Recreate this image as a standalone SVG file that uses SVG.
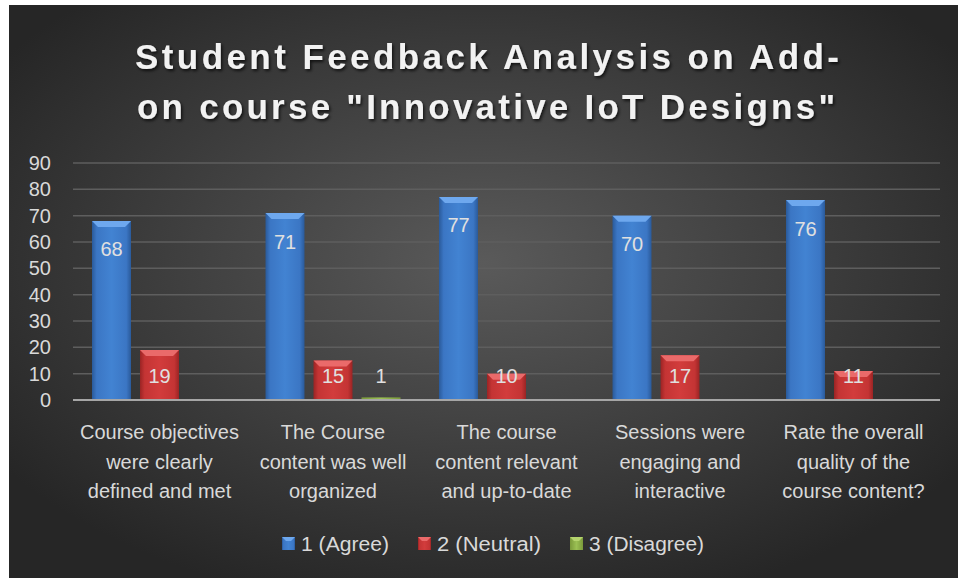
<svg xmlns="http://www.w3.org/2000/svg" width="958" height="578" viewBox="0 0 958 578">
<defs>
<radialGradient id="bg" cx="50%" cy="45%" r="62%">
<stop offset="0" stop-color="#5a5a5a"/>
<stop offset="1" stop-color="#262626"/>
</radialGradient>
<linearGradient id="gb" x1="0" y1="0" x2="1" y2="0">
<stop offset="0" stop-color="#2a5a9a"/>
<stop offset="0.12" stop-color="#3b76c4"/>
<stop offset="0.5" stop-color="#4283d2"/>
<stop offset="0.88" stop-color="#3b76c4"/>
<stop offset="1" stop-color="#2a5a9a"/>
</linearGradient>
<linearGradient id="gr" x1="0" y1="0" x2="1" y2="0">
<stop offset="0" stop-color="#9a2424"/>
<stop offset="0.12" stop-color="#c43434"/>
<stop offset="0.5" stop-color="#d23c3c"/>
<stop offset="0.88" stop-color="#c43434"/>
<stop offset="1" stop-color="#9a2424"/>
</linearGradient>
<linearGradient id="gg" x1="0" y1="0" x2="1" y2="0">
<stop offset="0" stop-color="#7a9a3a"/>
<stop offset="0.5" stop-color="#9bc054"/>
<stop offset="1" stop-color="#7a9a3a"/>
</linearGradient>
<filter id="sh" x="-5%" y="-20%" width="110%" height="140%">
<feDropShadow dx="1.5" dy="2" stdDeviation="1.5" flood-color="#000" flood-opacity="0.7"/>
</filter>
</defs>
<style>
.t{font-family:"Liberation Sans",Arial,sans-serif;font-weight:bold;font-size:35px;fill:#f2f2f2;text-anchor:middle}
.ax{font-family:"Liberation Sans",Arial,sans-serif;font-size:20px;fill:#d9d9d9;text-anchor:end}
.cat{font-family:"Liberation Sans",Arial,sans-serif;font-size:20px;fill:#d9d9d9;text-anchor:middle}
.val{font-family:"Liberation Sans",Arial,sans-serif;font-size:20px;fill:#e0e0e0;text-anchor:middle}
.lg{font-family:"Liberation Sans",Arial,sans-serif;font-size:20px;fill:#d9d9d9}
.grid{stroke:#5e5e5e;stroke-width:1.5}
.bb{fill:url(#gb)}
.br{fill:url(#gr)}
.bg{fill:url(#gg)}
.capb{fill:#6ea8ee}
.capr{fill:#ea6a6a}
</style>
<rect x="0" y="0" width="958" height="578" fill="#ffffff"/>
<rect x="9" y="5" width="949" height="573" fill="url(#bg)"/>
<g id="title" filter="url(#sh)">
<text class="t" x="487" y="69" textLength="704" lengthAdjust="spacing">Student Feedback Analysis on Add-</text>
<text class="t" x="486" y="119" textLength="698" lengthAdjust="spacing">on course "Innovative IoT Designs"</text>
</g>
<g id="gridlines">
<line class="grid" x1="73" y1="163" x2="940" y2="163"/>
<line class="grid" x1="73" y1="189.3" x2="940" y2="189.3"/>
<line class="grid" x1="73" y1="215.7" x2="940" y2="215.7"/>
<line class="grid" x1="73" y1="242" x2="940" y2="242"/>
<line class="grid" x1="73" y1="268.3" x2="940" y2="268.3"/>
<line class="grid" x1="73" y1="294.7" x2="940" y2="294.7"/>
<line class="grid" x1="73" y1="321" x2="940" y2="321"/>
<line class="grid" x1="73" y1="347.3" x2="940" y2="347.3"/>
<line class="grid" x1="73" y1="373.7" x2="940" y2="373.7"/>
</g>
<g id="yaxis">
<text class="ax" x="51" y="170">90</text>
<text class="ax" x="51" y="196">80</text>
<text class="ax" x="51" y="223">70</text>
<text class="ax" x="51" y="249">60</text>
<text class="ax" x="51" y="275">50</text>
<text class="ax" x="51" y="302">40</text>
<text class="ax" x="51" y="328">30</text>
<text class="ax" x="51" y="354">20</text>
<text class="ax" x="51" y="381">10</text>
<text class="ax" x="51" y="407">0</text>
</g>
<g id="bars">
<g id="c1">
<rect class="bb" x="92" y="221" width="39" height="179"/><polygon class="capb" points="92,221 131,221 125,227 98,227"/>
<text class="val" x="111.5" y="256">68</text>
<rect class="br" x="140" y="350" width="39" height="50"/><polygon class="capr" points="140,350 179,350 173,356 146,356"/>
<text class="val" x="159.5" y="382.5">19</text>
</g>
<g id="c2">
<rect class="bb" x="265.5" y="213" width="39" height="187"/><polygon class="capb" points="265.5,213 304.5,213 298.5,219 271.5,219"/>
<text class="val" x="285" y="249">71</text>
<rect class="br" x="313.5" y="360.5" width="39" height="39.5"/><polygon class="capr" points="313.5,360.5 352.5,360.5 346.5,366.5 319.5,366.5"/>
<text class="val" x="333" y="383">15</text>
<rect class="bg" x="361.5" y="397.4" width="39" height="2.6"/>
<text class="val" x="381" y="383">1</text>
</g>
<g id="c3">
<rect class="bb" x="439" y="197" width="39" height="203"/><polygon class="capb" points="439,197 478,197 472,203 445,203"/>
<text class="val" x="458.5" y="232">77</text>
<rect class="br" x="487" y="373.7" width="39" height="26.3"/><polygon class="capr" points="487,373.7 526,373.7 520,379.7 493,379.7"/>
<text class="val" x="506.5" y="382.5">10</text>
</g>
<g id="c4">
<rect class="bb" x="612.5" y="215.7" width="39" height="184.3"/><polygon class="capb" points="612.5,215.7 651.5,215.7 645.5,221.7 618.5,221.7"/>
<text class="val" x="632" y="250.5">70</text>
<rect class="br" x="660.5" y="355.2" width="39" height="44.8"/><polygon class="capr" points="660.5,355.2 699.5,355.2 693.5,361.2 666.5,361.2"/>
<text class="val" x="680" y="382.5">17</text>
</g>
<g id="c5">
<rect class="bb" x="786" y="200" width="39" height="200"/><polygon class="capb" points="786,200 825,200 819,206 792,206"/>
<text class="val" x="805.5" y="235.5">76</text>
<rect class="br" x="834" y="371" width="39" height="29"/><polygon class="capr" points="834,371 873,371 867,377 840,377"/>
<text class="val" x="853.5" y="382.5">11</text>
</g>
</g>
<line id="xaxis" x1="73" y1="400" x2="940" y2="400" stroke="#a6a6a6" stroke-width="2"/>
<g id="categories">
<text class="cat" x="159.5" y="439">Course objectives</text>
<text class="cat" x="159.5" y="469">were clearly</text>
<text class="cat" x="159.5" y="498">defined and met</text>
<text class="cat" x="333" y="439">The Course</text>
<text class="cat" x="333" y="469">content was well</text>
<text class="cat" x="333" y="498">organized</text>
<text class="cat" x="506.5" y="439">The course</text>
<text class="cat" x="506.5" y="469">content relevant</text>
<text class="cat" x="506.5" y="498">and up-to-date</text>
<text class="cat" x="680" y="439">Sessions were</text>
<text class="cat" x="680" y="469">engaging and</text>
<text class="cat" x="680" y="498">interactive</text>
<text class="cat" x="853.5" y="439">Rate the overall</text>
<text class="cat" x="853.5" y="469">quality of the</text>
<text class="cat" x="853.5" y="498">course content?</text>
</g>
<g id="legend">
<rect class="bb" x="282" y="537" width="13" height="13"/><polygon class="capb" points="282,537 295,537 291,541 286,541"/>
<text class="lg" x="301" y="551" textLength="88" lengthAdjust="spacingAndGlyphs">1 (Agree)</text>
<rect class="br" x="418" y="537" width="13" height="13"/><polygon class="capr" points="418,537 431,537 427,541 422,541"/>
<text class="lg" x="437" y="551" textLength="104" lengthAdjust="spacingAndGlyphs">2 (Neutral)</text>
<rect class="bg" x="570" y="537" width="13" height="13"/><polygon fill="#b5d46e" points="570,537 583,537 579,541 574,541"/>
<text class="lg" x="589" y="551" textLength="115" lengthAdjust="spacingAndGlyphs">3 (Disagree)</text>
</g>
</svg>
